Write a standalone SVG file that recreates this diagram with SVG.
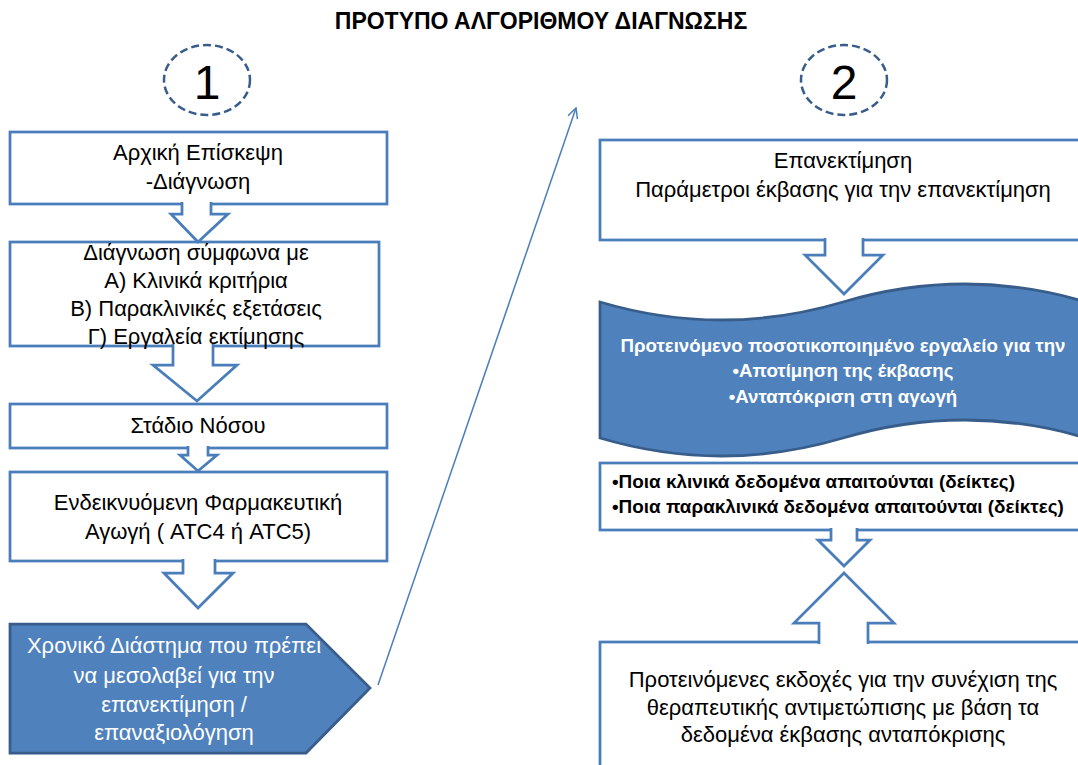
<svg xmlns="http://www.w3.org/2000/svg" width="1078" height="765" viewBox="0 0 1078 765">
<defs>
<style>
.box{fill:#fff;stroke:#4A7EBB;stroke-width:2.75}
.arr{fill:#fff;stroke:#4A7EBB;stroke-width:2.75;stroke-linejoin:miter}
.blue{fill:#4F81BD;stroke:#385D8A;stroke-width:2.75}
.ell{fill:#fff;stroke:#385D8A;stroke-width:2.5;stroke-dasharray:8 4}
.t{font-family:"Liberation Sans",Arial,sans-serif;font-size:22px;fill:#000;text-anchor:middle}
.tw{font-family:"Liberation Sans",Arial,sans-serif;font-size:22px;fill:#fff;text-anchor:middle}
.tb{font-family:"Liberation Sans",Arial,sans-serif;font-size:18.7px;font-weight:bold;fill:#fff;text-anchor:middle}
.tk{font-family:"Liberation Sans",Arial,sans-serif;font-size:18.9px;font-weight:bold;fill:#000}
.num{font-family:"Liberation Sans",Arial,sans-serif;font-size:48px;fill:#000;text-anchor:middle}
.title{font-family:"Liberation Sans",Arial,sans-serif;font-size:23px;font-weight:bold;fill:#000;text-anchor:middle}
</style>
<marker id="open" viewBox="0 0 12 12" refX="11" refY="6" markerWidth="12" markerHeight="12" markerUnits="userSpaceOnUse" orient="auto">
<path d="M1,1 L11,6 L1,11" fill="none" stroke="#4A7EBB" stroke-width="1.5"/>
</marker>
</defs>
<rect width="1078" height="765" fill="#fff"/>
<text class="title" x="541" y="29">ΠΡΟΤΥΠΟ ΑΛΓΟΡΙΘΜΟΥ ΔΙΑΓΝΩΣΗΣ</text>

<g id="marker1">
<ellipse class="ell" cx="207" cy="80" rx="43" ry="35"/>
<text class="num" x="207" y="99">1</text>
</g>
<g id="marker2">
<ellipse class="ell" cx="844" cy="80" rx="43" ry="35"/>
<text class="num" x="844" y="99">2</text>
</g>

<g id="n1">
<rect class="box" x="10" y="132" width="377" height="72"/>
<text class="t" x="198" y="160">Αρχική Επίσκεψη</text>
<text class="t" x="198" y="189">-Διάγνωση</text>
</g>
<g id="n2">
<rect class="box" x="10" y="242" width="369" height="104"/>
<text class="t" x="196" y="260">Διάγνωση σύμφωνα με</text>
<text class="t" x="196" y="288">Α) Κλινικά κριτήρια</text>
<text class="t" x="196" y="316">Β) Παρακλινικές εξετάσεις</text>
<text class="t" x="196" y="344">Γ) Εργαλεία εκτίμησης</text>
</g>
<g id="n3">
<rect class="box" x="10" y="404" width="377" height="44"/>
<text class="t" x="198" y="433">Στάδιο Νόσου</text>
</g>
<g id="n4">
<rect class="box" x="10" y="472" width="377" height="89"/>
<text class="t" x="198" y="510">Ενδεικνυόμενη Φαρμακευτική</text>
<text class="t" x="198" y="539">Αγωγή ( ATC4 ή ATC5)</text>
</g>
<g id="n5">
<path class="blue" d="M10,624 L306,624 L370,688 L306,753 L10,753 Z"/>
<text class="tw" x="174" y="653">Χρονικό Διάστημα που πρέπει</text>
<text class="tw" x="174" y="683">να μεσολαβεί για την</text>
<text class="tw" x="174" y="712">επανεκτίμηση /</text>
<text class="tw" x="174" y="740">επαναξιολόγηση</text>
</g>

<g id="n6">
<rect class="box" x="600" y="140" width="490" height="100"/>
<text class="t" x="843" y="168">Επανεκτίμηση</text>
<text class="t" x="843" y="197">Παράμετροι έκβασης για την επανεκτίμηση</text>
</g>
<g id="n7">
<path class="blue" d="M600,302 C681,326 762,326 843,302 C924,278 1005,278 1086,302 L1086,438 C1005,414 924,414 843,438 C762,462 681,462 600,438 Z"/>
<text class="tb" x="843" y="352">Προτεινόμενο ποσοτικοποιημένο εργαλείο για την</text>
<text class="tb" x="843" y="377">•Αποτίμηση της έκβασης</text>
<text class="tb" x="843" y="403">•Ανταπόκριση στη αγωγή</text>
</g>
<g id="n8">
<rect class="box" x="600" y="463" width="490" height="67"/>
<text class="tk" x="612" y="488">•Ποια κλινικά δεδομένα απαιτούνται (δείκτες)</text>
<text class="tk" x="612" y="513">•Ποια παρακλινικά δεδομένα απαιτούνται (δείκτες)</text>
</g>
<g id="n9">
<rect class="box" x="600" y="642" width="490" height="140"/>
<text class="t" x="843" y="687">Προτεινόμενες εκδοχές για την συνέχιση της</text>
<text class="t" x="843" y="715">θεραπευτικής αντιμετώπισης με βάση τα</text>
<text class="t" x="843" y="742">δεδομένα έκβασης ανταπόκρισης</text>
</g>

<g id="connectors">
<path class="arr" d="M182,202 L182,214 L171,214 L198,242 L228,214 L211,214 L211,202"/>
<path class="arr" d="M173,344 L173,365 L153,365 L197,401 L237,365 L213,365 L213,344"/>
<path class="arr" d="M188,446 L188,455 L180,455 L198,471 L217,455 L208,455 L208,446"/>
<path class="arr" d="M183,559 L183,573 L164,573 L198,608 L233,573 L215,573 L215,559"/>
<path class="arr" d="M825,238 L825,255 L805,255 L844,294 L883,255 L863,255 L863,238"/>
<path class="arr" d="M831,528 L831,540 L818,540 L844,566 L870,540 L857,540 L857,528"/>
<path class="arr" d="M819,644 L819,623 L794,623 L844,573 L894,623 L868,623 L868,644"/>
<line x1="378" y1="685" x2="576" y2="108" stroke="#4A7EBB" stroke-width="1.5" marker-end="url(#open)"/>
</g>
</svg>
